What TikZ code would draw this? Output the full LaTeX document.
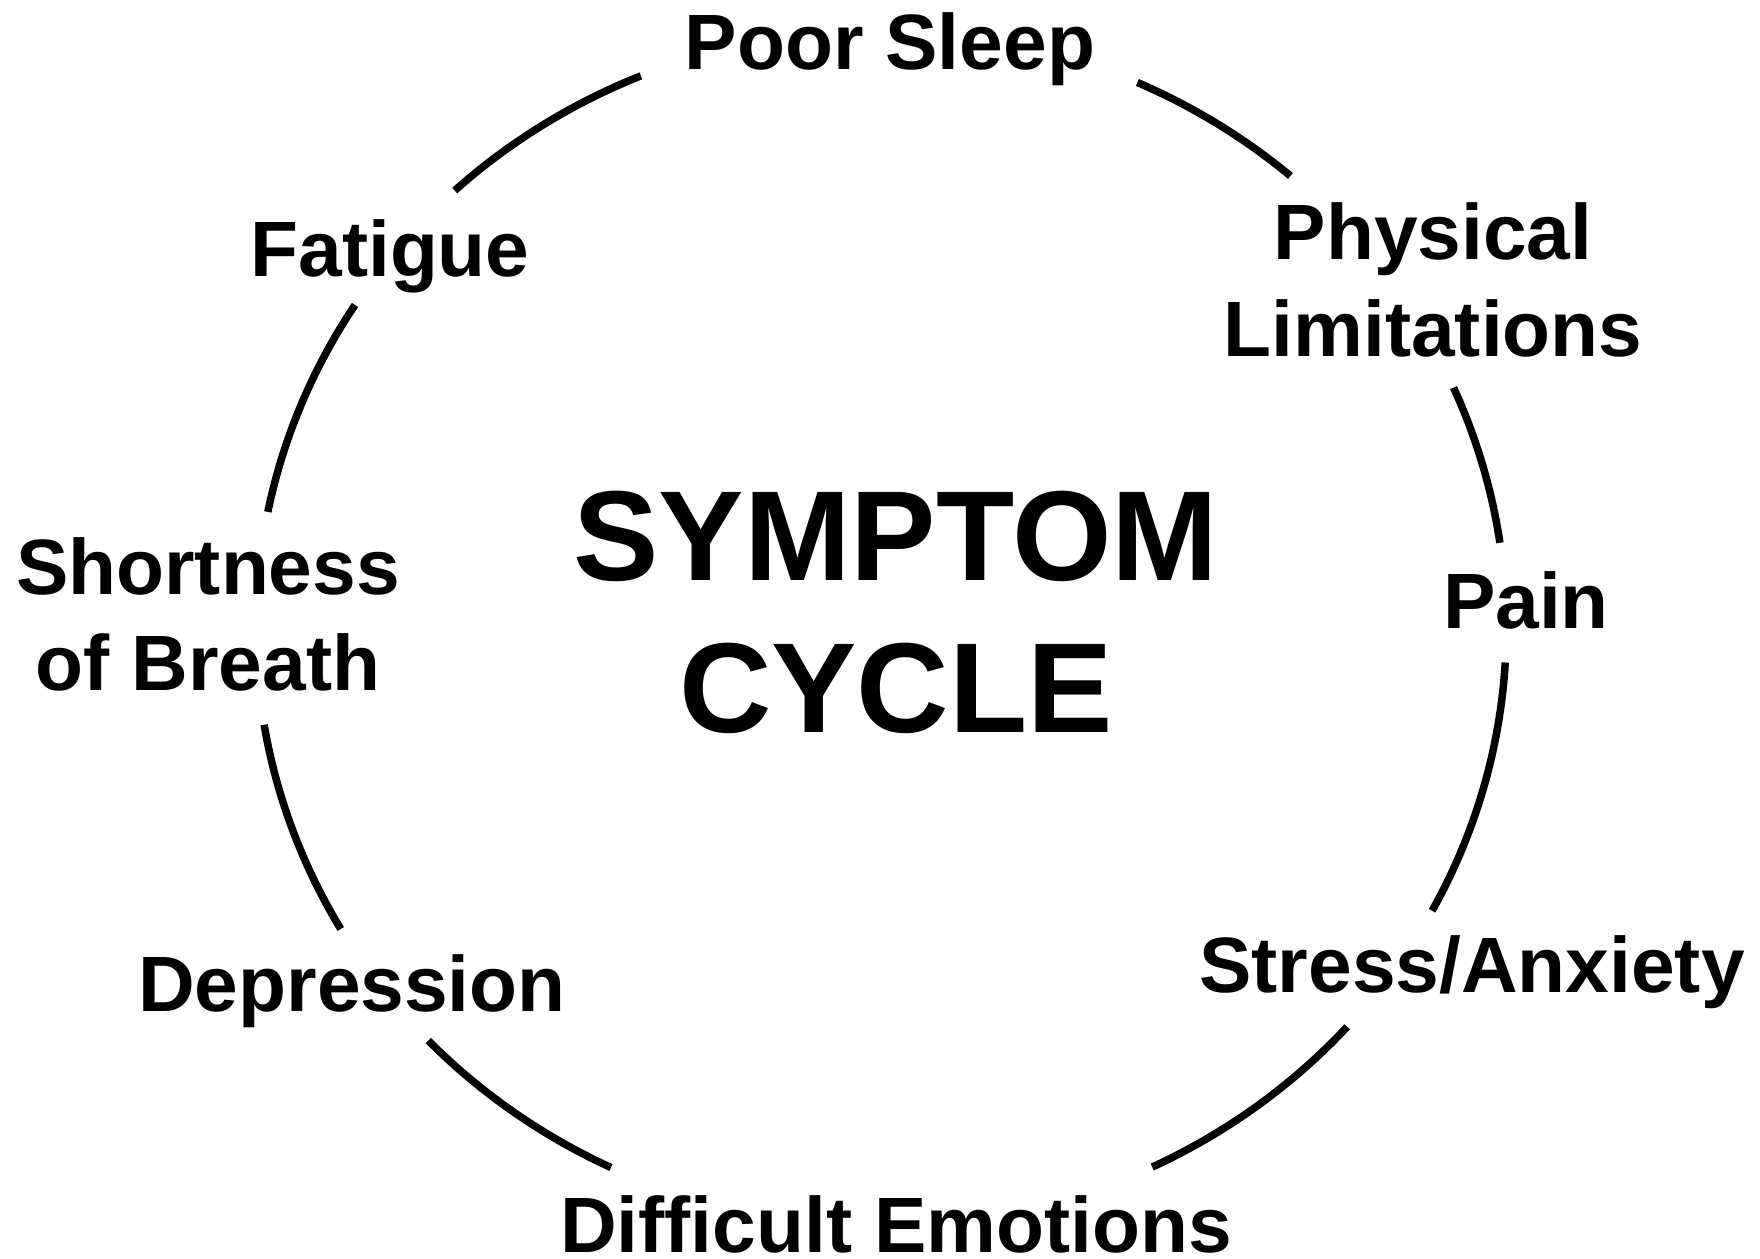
\documentclass[tikz,border=0pt]{standalone}
\usepackage{fontspec}
\setmainfont{Liberation Sans}
\usetikzlibrary{calc}
\tikzset{
  lab/.style={font=\fontsize{78.5}{94}\selectfont\bfseries, inner sep=0pt, anchor=base},
  big/.style={font=\fontsize{128}{150}\selectfont\bfseries, inner sep=0pt, anchor=base},
  cyc/.style={line width=7.5pt, black},
  ell/.style={x radius=625.2pt, y radius=598.2pt},
}
\begin{document}
\begin{tikzpicture}[x=1pt,y=1pt]
\useasboundingbox (0,0) rectangle (1760,1258);
\coordinate (O) at (881.1,629.9);
% labels
\node[lab] (sleep) at (890,1188.4) {Poor Sleep};
\node[lab] (phys1) at (1433,998) {Physical};
\node[lab] (phys2) at (1433,901) {Limitations};
\node[lab] (pain) at (1526,629.5) {Pain};
\node[lab] (stress) at (1472,265) {Stress/Anxiety};
\node[lab] (emot) at (896,6) {Difficult Emotions};
\node[lab] (depr) at (352,246) {Depression};
\node[lab] (sob1) at (208,663) {Shortness};
\node[lab] (sob2) at (208,567) {of Breath};
\node[lab] (fat) at (390,981) {Fatigue};
\node[big] (sym) at (896,677.7) {SYMPTOM};
\node[big] (cyc) at (896,525) {CYCLE};
% arc end points
\coordinate (a1) at ($(O)+(133.0:625.2pt and 598.2pt)$);
\coordinate (a2) at ($(O)+(65.8:625.2pt and 598.2pt)$);
\coordinate (a3) at ($(O)+(23.7:625.2pt and 598.2pt)$);
\coordinate (a4) at ($(O)+(-3.3:625.2pt and 598.2pt)$);
\coordinate (a5) at ($(O)+(-41.8:625.2pt and 598.2pt)$);
\coordinate (a6) at ($(O)+(-115.6:625.2pt and 598.2pt)$);
\coordinate (a7) at ($(O)+(-149.8:625.2pt and 598.2pt)$);
\coordinate (a8) at ($(O)+(168.8:625.2pt and 598.2pt)$);
% connectors
\draw[cyc] (a1) arc[ell, start angle=133.0, end angle=112.6];
\draw[cyc] (a2) arc[ell, start angle=65.8, end angle=49.1];
\draw[cyc] (a3) arc[ell, start angle=23.7, end angle=8.2];
\draw[cyc] (a4) arc[ell, start angle=-3.3, end angle=-28.2];
\draw[cyc] (a5) arc[ell, start angle=-41.8, end angle=-64.3];
\draw[cyc] (a6) arc[ell, start angle=-115.6, end angle=-136.4];
\draw[cyc] (a7) arc[ell, start angle=-149.8, end angle=-170.7];
\draw[cyc] (a8) arc[ell, start angle=168.8, end angle=147.3];
\end{tikzpicture}
\end{document}
